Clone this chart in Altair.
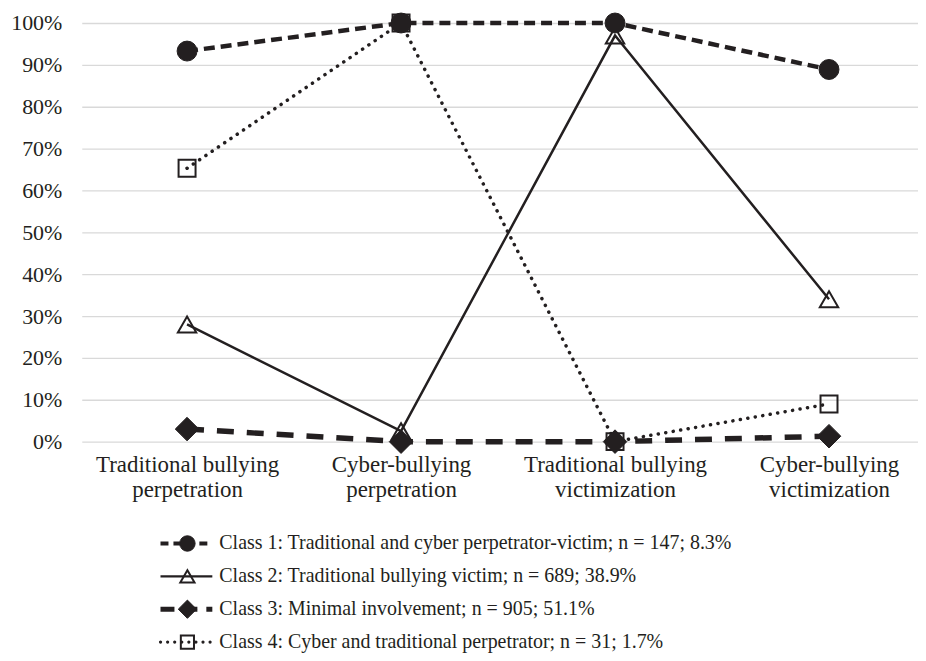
import altair as alt
import pandas as pd

# ---------------- data ----------------
categories = [
    "Traditional bullying perpetration",
    "Cyber-bullying perpetration",
    "Traditional bullying victimization",
    "Cyber-bullying victimization",
]
class_labels = [
    "Class 1: Traditional and cyber perpetrator-victim; n = 147; 8.3%",
    "Class 2: Traditional bullying victim; n = 689; 38.9%",
    "Class 3: Minimal involvement; n = 905; 51.1%",
    "Class 4: Cyber and traditional perpetrator; n = 31; 1.7%",
]
class1_values = [93.3, 100.0, 100.0, 88.9]
class2_values = [28.0, 2.5, 97.0, 34.0]
class3_values = [3.0, 0.0, 0.0, 1.3]
class4_values = [65.3, 100.0, 0.0, 9.0]
series_values = [class1_values, class2_values, class3_values, class4_values]
y_ticks = list(range(0, 101, 10))

records = []
for name, vals in zip(class_labels, series_values):
    for cat, v in zip(categories, vals):
        records.append({"cls": name, "category": cat, "value": v})
df = pd.DataFrame(records)
legend_df = pd.DataFrame({"cls": class_labels, "row": list(range(len(class_labels)))})

# ---------------- styles ----------------
INK = "#231f20"
FONT = "Liberation Serif"
FS = 22
X_FS = 23
LEG_FS = 20
W = 839
H = 420

styles = [
    dict(dash=[11, 6], width=4.5, cap="butt", shape="circle", size=400, filled=True),
    dict(dash=None, width=2.5, cap="butt", shape="triangle-up", size=340, filled=False),
    dict(dash=[17, 13], width=5.5, cap="butt", shape="diamond", size=560, filled=True),
    dict(dash=[0.1, 7.5], width=3.5, cap="round", shape="square", size=290, filled=False),
]
legend_dash = [[8, 5], None, [14, 9], [0.1, 7]]
draw_order = [3, 1, 2, 0]

x_enc = alt.X(
    "category:N",
    sort=categories,
    scale=alt.Scale(type="point", domain=categories, padding=0.454, align=0.542),
    axis=alt.Axis(
        title=None, grid=False, domain=False, ticks=False, labelAngle=0,
        labelPadding=12, labelLineHeight=25, labelOverlap=False, labelFontSize=X_FS,
        labelLimit=400,
        labelExpr="[substring(datum.label, 0, lastindexof(datum.label, ' ')), "
                  "substring(datum.label, lastindexof(datum.label, ' ') + 1)]",
    ),
)
y_enc = alt.Y(
    "value:Q",
    scale=alt.Scale(domain=[0, 100], nice=False, zero=True),
    axis=alt.Axis(
        title=None, values=y_ticks, labelExpr="datum.value + '%'",
        grid=True, gridColor="#d9d9d9", gridWidth=1.3,
        domain=False, ticks=False, labelPadding=20,
    ),
)


def point_kwargs(s, scale=1.0):
    kw = dict(shape=s["shape"], size=s["size"] * scale, filled=s["filled"], opacity=1)
    if s["filled"]:
        kw.update(fill=INK, stroke=INK, strokeWidth=1)
    else:
        kw.update(stroke=INK, strokeWidth=2)
    return kw


line_layers = []
point_layers = []
for i in draw_order:
    s = styles[i]
    name = class_labels[i]
    base = alt.Chart(df).transform_filter(alt.datum.cls == name)
    line_kw = dict(color=INK, strokeWidth=s["width"], strokeCap=s["cap"])
    if s["dash"]:
        line_kw["strokeDash"] = s["dash"]
    line_layers.append(base.mark_line(**line_kw).encode(x=x_enc, y=y_enc))
    point_layers.append(base.mark_point(**point_kwargs(s)).encode(x=x_enc, y=y_enc))

main = alt.layer(*(line_layers + point_layers)).properties(width=W, height=H)

# ---------------- legend ----------------
LINE_X0, LINE_X1, MARK_X, TEXT_X = 79, 131, 106, 138
leg_y = alt.Y("row:Q", scale=alt.Scale(domain=[-0.4, 3.3], reverse=True, nice=False, zero=False), axis=None)
leg_layers = []
for i in range(len(class_labels)):
    s = styles[i]
    base = alt.Chart(legend_df).transform_filter(alt.datum.row == i)
    rule_kw = dict(color=INK, strokeWidth=s["width"] * 0.9, strokeCap=s["cap"])
    if legend_dash[i]:
        rule_kw["strokeDash"] = legend_dash[i]
    leg_layers.append(base.mark_rule(**rule_kw).encode(x=alt.value(LINE_X0), x2=alt.value(LINE_X1), y=leg_y))
for i in range(len(class_labels)):
    s = styles[i]
    base = alt.Chart(legend_df).transform_filter(alt.datum.row == i)
    leg_layers.append(base.mark_point(**point_kwargs(s, 0.6)).encode(x=alt.value(MARK_X), y=leg_y))
leg_layers.append(
    alt.Chart(legend_df).mark_text(align="left", baseline="middle", font=FONT, fontSize=LEG_FS, color=INK)
    .encode(x=alt.value(TEXT_X), y=leg_y, text="cls:N")
)
legend = alt.layer(*leg_layers).properties(width=W, height=122)

chart = (
    alt.vconcat(main, legend, spacing=29)
    .properties(padding={"left": 2, "top": 1, "right": 0, "bottom": 0})
    .configure_view(stroke=None)
    .configure_axis(labelFont=FONT, labelFontSize=FS, labelColor=INK)
)

chart.save("out.html", embed_options={"renderer": "svg", "actions": False})
